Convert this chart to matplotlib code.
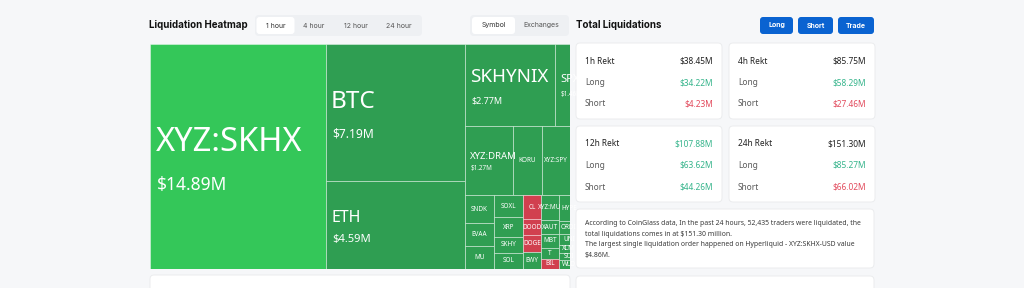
import matplotlib
matplotlib.use("Agg")
import matplotlib.pyplot as plt
from matplotlib.patches import Rectangle, FancyBboxPatch
from matplotlib.transforms import Bbox, TransformedBbox

# ------------------------------------------------------------------ data
coins = ["XYZ:SKHX", "BTC", "ETH", "SKHYNIX", "SPX", "XYZ:DRAM", "KORU", "XYZ:SPY",
         "OTHERS-2", "SNDK", "EVAA", "MU", "SOXL", "XRP", "SKHY", "SOL",
         "CL", "DOOD", "DOGE", "EWY", "XYZ:MU", "XAUT", "MBT", "T", "BIL",
         "HYPE", "ORDI", "UNI", "XLM", "SUI", "WLD", "OTHERS-3"]
liq_values = [14.89, 7.19, 4.59, 2.77, 1.46, 1.27, 0.76, 0.76,
              0.82, 0.31, 0.26, 0.26, 0.24, 0.21, 0.175, 0.175,
              0.16, 0.11, 0.11, 0.115, 0.17, 0.095, 0.09, 0.075, 0.07,
              0.19, 0.10, 0.08, 0.06, 0.05, 0.07, 0.645]
liq_side = ["L", "L", "L", "L", "L", "L", "L", "L",
            "L", "L", "L", "L", "L", "L", "L", "L",
            "S", "S", "S", "L", "L", "L", "L", "L", "S",
            "L", "L", "L", "L", "L", "L", "L"]

periods = ["1h", "4h", "12h", "24h"]
total_rekt = [38.45, 85.75, 107.88, 151.30]
long_rekt = [34.22, 58.29, 63.62, 85.27]
short_rekt = [4.23, 27.46, 44.26, 66.02]

time_tabs = ["1 hour", "4 hour", "12 hour", "24 hour"]
group_tabs = ["Symbol", "Exchanges"]
action_buttons = ["Long", "Short", "Trade"]
summary_lines = [
    "According to CoinGlass data, In the past 24 hours, 52,435 traders were liquidated, the",
    "total liquidations comes in at $151.30 million.",
    "The largest single liquidation order happened on Hyperliquid - XYZ:SKHX-USD value",
    "$4.86M.",
]

# treemap nesting ('h' = side by side, 'v' = stacked)
tree = ("h", [
    "XYZ:SKHX",
    ("v", ["BTC", "ETH"]),
    ("v", [
        ("h", ["SKHYNIX", "SPX"]),
        ("h", ["XYZ:DRAM", "KORU", "XYZ:SPY", "OTHERS-2"]),
        ("h", [
            ("v", ["SNDK", "EVAA", "MU"]),
            ("v", ["SOXL", "XRP", "SKHY", "SOL"]),
            ("v", ["CL", "DOOD", "DOGE", "EWY"]),
            ("v", ["XYZ:MU", "XAUT", "MBT", "T", "BIL"]),
            ("v", ["HYPE", "ORDI", "UNI", "XLM", "SUI", "WLD"]),
            "OTHERS-3",
        ]),
    ]),
])

# ------------------------------------------------------------------ style
BG = "#f6f7f9"
GREEN_TOP = "#34c759"
GREEN = "#2f9e52"
RED = "#d1404f"
TXT_GREEN = "#35b48b"
TXT_RED = "#e24a5c"
DARK = "#222222"
GREY = "#5a5a5a"
BLUE = "#0a63d1"
UI_FONT = ["Inter", "DejaVu Sans"]
CARD_FONT = ["Noto Sans", "DejaVu Sans"]
TM_FONT = ["Noto Sans", "DejaVu Sans"]

# name/value font sizes (pt) for big labelled cells
LABEL_STYLE = {"XYZ:SKHX": (23.5, 12.5), "BTC": (17.5, 8.7), "ETH": (11.5, 8),
               "SKHYNIX": (13.5, 6.5), "SPX": (8, 4.5), "XYZ:DRAM": (6.9, 4.5)}
SMALL_PT = 4.6

total_color = [DARK, DARK, TXT_GREEN, DARK]
long_color = [TXT_GREEN] * 4
short_color = [TXT_RED, TXT_RED, TXT_GREEN, TXT_RED]

W, H = 1024, 288
fig = plt.figure(figsize=(W / 100, H / 100), dpi=100, facecolor=BG)
bg = fig.add_axes([0, 0, 1, 1])
bg.set_xlim(0, W)
bg.set_ylim(H, 0)
bg.axis("off")
bg.set_facecolor(BG)


def rbox(x, y, w, h, fc, ec="none", r=4, lw=0.8, z=1):
    bg.add_patch(FancyBboxPatch((x, y), w, h, boxstyle=f"round,pad=0,rounding_size={r}",
                                fc=fc, ec=ec, lw=lw, zorder=z))


# ------------------------------------------------------------------ header
bg.text(149, 25.5, "Liquidation Heatmap", fontsize=7.0, fontweight="bold",
        family=UI_FONT, color="#111111", va="center", ha="left")
rbox(255, 15, 167, 21, "#eef0f3", r=4)
tab_centers = [275.5, 314, 356, 399]
tab_widths = [38, 36, 42, 42]
for i, (t, cx) in enumerate(zip(time_tabs, tab_centers)):
    if i == 0:
        rbox(cx - tab_widths[i] / 2, 17, tab_widths[i], 17, "white", r=3, z=2)
    bg.text(cx, 25.5, t, fontsize=5.0, family=UI_FONT, color="#333333" if i == 0 else "#555555",
            ha="center", va="center", zorder=3)

rbox(470, 15, 99, 21, "#eef0f3", r=4)
for i, (t, cx) in enumerate(zip(group_tabs, [493.5, 541])):
    if i == 0:
        rbox(472, 17, 43, 17, "white", r=3, z=2)
    bg.text(cx, 25.5, t, fontsize=5.0, family=UI_FONT, color="#333333" if i == 0 else "#555555",
            ha="center", va="center", zorder=3)

bg.text(576, 25.5, "Total Liquidations", fontsize=7.0, fontweight="bold",
        family=UI_FONT, color="#111111", va="center", ha="left")
btn_x = [760, 798, 838]
btn_w = [33, 35, 36]
for t, x, w in zip(action_buttons, btn_x, btn_w):
    rbox(x, 17, w, 17, BLUE, r=3)
    bg.text(x + w / 2, 25.5, t, fontsize=5.0, fontweight="bold", family=UI_FONT,
            color="white", ha="center", va="center")

# ------------------------------------------------------------------ cards
for i, p in enumerate(periods):
    col, row = i % 2, i // 2
    x0 = [576, 729][col]
    y0 = [43, 126][row]
    rbox(x0, y0, 146, 76, "white", ec="#ebecee", r=4, lw=0.7)
    lx, rx = x0 + 9, x0 + 137
    rows = [(f"{p} Rekt", total_rekt[i], total_color[i], DARK),
            ("Long", long_rekt[i], long_color[i], GREY),
            ("Short", short_rekt[i], short_color[i], GREY)]
    for j, (lab, val, vc, lc) in enumerate(rows):
        yy = y0 + 18 + j * 21.5
        bg.text(lx, yy, lab, fontsize=6.0, family=CARD_FONT, color=lc,
                fontweight="semibold" if j == 0 else "normal", va="center", ha="left")
        bg.text(rx, yy, f"${val:.2f}M", fontsize=6.0, family=CARD_FONT, color=vc,
                fontweight="semibold" if j == 0 else "medium", va="center", ha="right")

rbox(576, 209, 298, 59, "white", ec="#ebecee", r=4, lw=0.7)
for k, line in enumerate(summary_lines):
    bg.text(585, 223.5 + k * 10.6, line, fontsize=4.95, family=CARD_FONT, color="#3a3a3a",
            va="center", ha="left")

rbox(576, 276, 298, 30, "white", ec="#ebecee", r=4, lw=0.7)
rbox(150, 275, 420, 30, "white", ec="#ebecee", r=4, lw=0.7)

# ------------------------------------------------------------------ treemap
TM_X, TM_Y, TM_W, TM_H = 150, 44, 420, 225
VIRTUAL_W = 452  # full treemap width; the right part is clipped by the panel
ax = fig.add_axes([TM_X / W, 1 - (TM_Y + TM_H) / H, TM_W / W, TM_H / H])
ax.set_xlim(0, TM_W)
ax.set_ylim(TM_H, 0)
ax.axis("off")

val_of = dict(zip(coins, liq_values))
side_of = dict(zip(coins, liq_side))


def subtotal(node):
    if isinstance(node, str):
        return val_of[node]
    return sum(subtotal(c) for c in node[1])


def layout(node, x0, y0, x1, y1, out):
    if isinstance(node, str):
        out[node] = (x0, y0, x1, y1)
        return
    orient, children = node
    tots = [subtotal(c) for c in children]
    s = sum(tots)
    pos = x0 if orient == "h" else y0
    for c, t in zip(children, tots):
        if orient == "h":
            d = (x1 - x0) * t / s
            layout(c, pos, y0, pos + d, y1, out)
        else:
            d = (y1 - y0) * t / s
            layout(c, x0, pos, x1, pos + d, out)
        pos += d


rects = {}
layout(tree, 0, 0, VIRTUAL_W, TM_H, rects)
vmax = max(liq_values)
view = Bbox([[0, 0], [TM_W, TM_H]])
px2pt = 0.72

for name in coins:
    x0, y0, x1, y1 = rects[name]
    v = val_of[name]
    if side_of[name] == "S":
        fc = RED
    else:
        fc = GREEN_TOP if v == vmax else GREEN
    ax.add_patch(Rectangle((x0, y0), x1 - x0, y1 - y0, fc=fc, ec=(1, 1, 1, 0.45), lw=0.6))
    cb = Bbox([[x0, y0], [x1, y1]])
    inter = Bbox.intersection(cb, view)
    if inter is None or name.startswith("OTHERS"):
        continue
    clip = TransformedBbox(inter, ax.transData)
    cy = (y0 + y1) / 2
    if name in LABEL_STYLE:
        npt, vpt = LABEL_STYLE[name]
        npx = npt / px2pt
        t1 = ax.text(x0 + 5.5, cy - 0.44 * npx, name, fontsize=npt, family=TM_FONT,
                     color="white", ha="left", va="center")
        t2 = ax.text(x0 + 6.5, cy + 0.88 * npx, f"${v:.2f}M", fontsize=vpt, family=TM_FONT,
                     color="white", ha="left", va="center")
        for t in (t1, t2):
            t.set_clip_box(clip)
    else:
        t = ax.text((x0 + x1) / 2, cy, name, fontsize=SMALL_PT, family=TM_FONT,
                    color="white", ha="center", va="center")
        t.set_clip_box(clip)

fig.savefig("out.png", dpi=100, facecolor=BG)
